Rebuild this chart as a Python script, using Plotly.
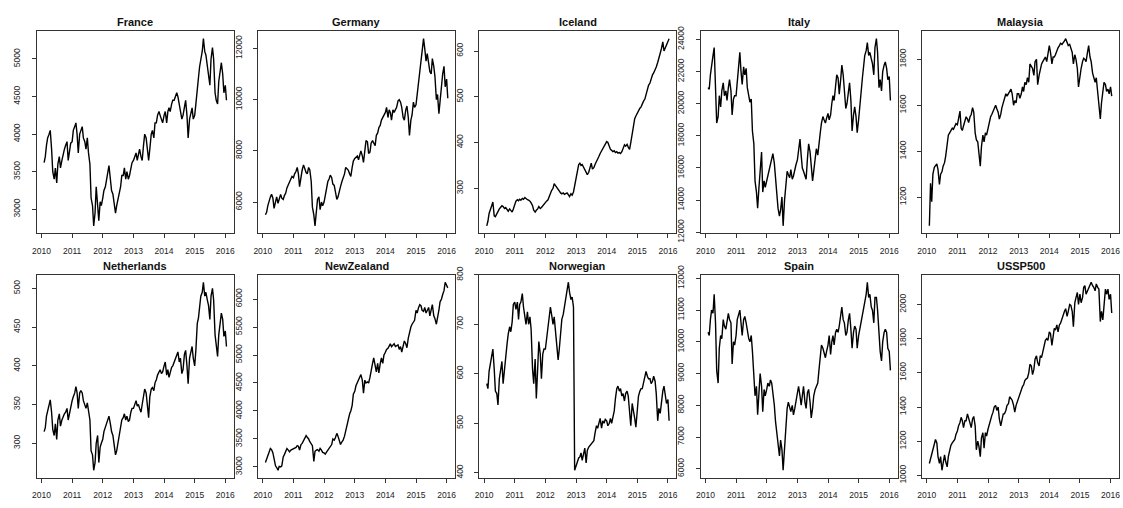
import pandas as pd
import plotly.graph_objects as go

# Semi-monthly sample dates (1st and 15th of each month)
dates = pd.date_range("2010-02-01", "2016-01-15", freq="SMS")

names = ["France", "Germany", "Iceland", "Italy", "Malaysia",
         "Netherlands", "NewZealand", "Norwegian", "Spain", "USSP500"]

france = (
    [3620, 3700, 3850, 3950, 4000, 4050, 3800, 3500, 3400, 3550, 3350, 3600, 3700, 3550, 3650, 3750, 3800, 3850, 3900, 3650, 3800, 3880]
    + [3900, 4050, 4100, 4150, 4000, 3750, 4000, 4050, 4100, 3950, 3900, 3800, 3950, 3750, 3600, 3150, 3050, 2780, 2950, 3300, 3100, 2850, 3100, 3050]
    + [3150, 3250, 3300, 3400, 3450, 3580, 3400, 3250, 3200, 3050, 2950, 3050, 3150, 3200, 3300, 3450, 3450, 3550, 3400, 3500, 3400, 3450, 3550, 3620]
    + [3650, 3700, 3750, 3650, 3750, 3800, 3700, 3650, 3850, 4000, 3950, 3750, 3650, 3800, 4000, 4050, 3950, 4150, 4150, 4250, 4300, 4250, 4200, 4150]
    + [4250, 4300, 4150, 4300, 4350, 4300, 4400, 4450, 4450, 4500, 4550, 4500, 4400, 4350, 4200, 4250, 4400, 4450, 4250, 3950, 4200, 4300, 4350, 4200]
    + [4250, 4400, 4650, 4750, 4900, 5000, 5100, 5270, 5100, 5050, 4900, 4850, 4650, 5000, 5150, 5000, 4550, 4450, 4400, 4700, 4850, 4950, 4800, 4550]
    + [4650, 4450]
)
germany = (
    [5500, 5600, 5850, 6050, 6200, 6300, 6150, 5750, 6000, 6200, 5950, 6150, 6300, 6150, 6100, 6250, 6350, 6550, 6700, 6800, 6900, 7000]
    + [6950, 7100, 7200, 7350, 7100, 6600, 7100, 7250, 7450, 7300, 7150, 7100, 7350, 7250, 6800, 5800, 5500, 5070, 5500, 6100, 6200, 5700, 6000, 5850]
    + [6000, 6300, 6600, 6800, 6900, 7050, 6950, 6700, 6650, 6400, 6100, 6200, 6500, 6600, 6800, 6950, 7100, 7350, 7300, 7250, 7100, 7000, 7350, 7600]
    + [7700, 7750, 7800, 7650, 7900, 8000, 7800, 7550, 8000, 8400, 8350, 7900, 7950, 8300, 8400, 8300, 8200, 8600, 8700, 8900, 9000, 9200, 9300, 9400]
    + [9500, 9700, 9300, 9600, 9500, 9200, 9600, 9500, 9600, 9700, 9950, 10000, 9900, 9700, 9300, 9200, 9600, 9750, 9300, 8600, 9200, 9400, 9900, 9700]
    + [9800, 10200, 10800, 11000, 11500, 12000, 12380, 12000, 11500, 11800, 11300, 11100, 11000, 11600, 11300, 10900, 10000, 10200, 9450, 10000, 10800, 11000, 11300, 10500]
    + [10800, 10050]
)
iceland = (
    [218, 228, 245, 255, 262, 270, 240, 238, 245, 250, 255, 258, 262, 260, 256, 258, 252, 250, 255, 252, 248, 255]
    + [265, 272, 275, 273, 276, 274, 278, 276, 280, 277, 275, 274, 272, 268, 262, 252, 248, 252, 255, 260, 256, 258, 262, 266]
    + [270, 272, 275, 282, 290, 295, 300, 310, 306, 302, 300, 296, 290, 288, 290, 287, 288, 290, 286, 282, 288, 285, 292, 305]
    + [325, 340, 352, 355, 350, 352, 345, 340, 332, 330, 335, 348, 355, 342, 345, 352, 360, 366, 370, 376, 382, 388, 393, 398]
    + [402, 400, 392, 385, 383, 380, 382, 378, 380, 377, 378, 376, 380, 388, 395, 392, 396, 390, 385, 400, 420, 440, 452, 458]
    + [465, 470, 475, 478, 485, 490, 495, 505, 520, 525, 530, 540, 548, 552, 558, 565, 575, 588, 595, 605, 620, 600, 608, 615]
    + [622, 627]
)
italy = (
    [21000, 20900, 21800, 22500, 23000, 23500, 21500, 18800, 19200, 20500, 19800, 20800, 21300, 20500, 20800, 20200, 21000, 21500, 20800, 19300, 20300, 20500]
    + [20500, 21500, 22300, 23200, 22000, 21200, 22300, 21800, 22200, 21000, 20500, 20100, 20300, 18300, 17500, 15200, 14500, 13500, 14800, 16000, 17000, 14500, 15200, 14800]
    + [15200, 15600, 16000, 16400, 16600, 16900, 16300, 15200, 14300, 13500, 13000, 13400, 14200, 12400, 14000, 14900, 15800, 15600, 15400, 15900, 15300, 15500, 16000, 16200]
    + [16500, 17200, 17800, 16800, 16000, 15800, 15500, 15300, 16600, 17500, 17000, 16200, 15200, 15800, 16600, 17200, 16800, 17600, 18200, 18800, 19200, 19000, 18800, 19100]
    + [19400, 19000, 19300, 20000, 20500, 20200, 21000, 21800, 21600, 20600, 21500, 22400, 21800, 21000, 19700, 20000, 20900, 21300, 20200, 18300, 19300, 19800, 19200, 18200]
    + [19000, 20000, 20800, 21600, 22300, 23000, 23300, 23800, 23000, 23200, 22800, 22500, 21800, 23500, 24050, 23200, 21000, 21500, 20800, 22000, 22400, 22600, 22200, 21500]
    + [21700, 20200]
)
malaysia = (
    [1075, 1260, 1180, 1300, 1330, 1340, 1345, 1320, 1255, 1300, 1310, 1335, 1350, 1380, 1420, 1470, 1480, 1490, 1500, 1495, 1510, 1520]
    + [1515, 1550, 1575, 1500, 1490, 1510, 1530, 1550, 1540, 1525, 1550, 1560, 1590, 1570, 1480, 1450, 1440, 1380, 1335, 1420, 1470, 1440, 1480, 1470]
    + [1500, 1520, 1550, 1560, 1575, 1590, 1600, 1585, 1570, 1540, 1560, 1590, 1610, 1630, 1650, 1640, 1650, 1660, 1670, 1650, 1600, 1620, 1610, 1650]
    + [1650, 1630, 1650, 1680, 1660, 1700, 1690, 1720, 1700, 1780, 1770, 1760, 1730, 1790, 1800, 1690, 1730, 1760, 1780, 1790, 1800, 1810, 1790, 1820]
    + [1860, 1830, 1780, 1810, 1810, 1820, 1840, 1850, 1860, 1870, 1865, 1870, 1880, 1890, 1870, 1860, 1865, 1850, 1830, 1780, 1820, 1800, 1760, 1680]
    + [1740, 1760, 1790, 1805, 1800, 1790, 1830, 1860, 1810, 1790, 1740, 1720, 1700, 1720, 1650, 1600, 1540, 1610, 1660, 1700, 1690, 1660, 1670, 1650]
    + [1680, 1640]
)
netherlands = (
    [315, 320, 335, 342, 350, 356, 340, 318, 310, 325, 305, 330, 338, 322, 330, 335, 338, 340, 345, 330, 340, 350]
    + [355, 360, 365, 373, 365, 345, 365, 368, 365, 355, 350, 345, 352, 340, 330, 290, 285, 265, 275, 300, 310, 275, 295, 300]
    + [305, 315, 320, 325, 330, 335, 325, 315, 310, 300, 285, 290, 300, 305, 320, 330, 333, 338, 330, 335, 328, 330, 340, 345]
    + [345, 350, 355, 348, 350, 345, 340, 350, 360, 370, 365, 345, 333, 360, 370, 372, 368, 378, 382, 388, 392, 395, 390, 392]
    + [400, 405, 388, 395, 385, 392, 398, 400, 405, 410, 415, 418, 405, 410, 390, 395, 415, 420, 400, 377, 410, 420, 425, 410]
    + [400, 420, 455, 462, 480, 490, 495, 508, 490, 495, 485, 478, 460, 490, 500, 485, 440, 425, 412, 440, 455, 468, 460, 438]
    + [445, 425]
)
newzealand = (
    [3080, 3150, 3200, 3250, 3330, 3310, 3250, 3150, 3020, 2990, 2940, 3010, 3000, 3020, 3180, 3220, 3280, 3330, 3300, 3270, 3300, 3310]
    + [3320, 3340, 3350, 3380, 3370, 3300, 3400, 3420, 3480, 3520, 3560, 3530, 3500, 3450, 3420, 3380, 3100, 3280, 3300, 3310, 3280, 3330, 3300, 3260]
    + [3250, 3230, 3270, 3300, 3310, 3350, 3400, 3500, 3480, 3520, 3600, 3550, 3480, 3400, 3450, 3480, 3550, 3650, 3750, 3850, 3950, 4000, 4100, 4300]
    + [4350, 4450, 4500, 4550, 4600, 4650, 4550, 4320, 4550, 4500, 4520, 4500, 4600, 4750, 4850, 4950, 4800, 4700, 4850, 4680, 4850, 4950, 4850, 5000]
    + [5050, 5100, 5120, 5150, 5200, 5150, 5180, 5200, 5150, 5170, 5180, 5100, 5150, 5050, 5200, 5250, 5200, 5130, 5300, 5400, 5500, 5550, 5580, 5620]
    + [5800, 5750, 5850, 5900, 5880, 5800, 5780, 5850, 5750, 5800, 5850, 5700, 5800, 5900, 5700, 5650, 5550, 5650, 5800, 5950, 6000, 6080, 6150, 6300]
    + [6250, 6200]
)
norwegian = (
    [580, 570, 605, 620, 640, 650, 610, 565, 560, 537, 590, 610, 625, 580, 615, 640, 660, 680, 695, 685, 705, 740]
    + [745, 730, 745, 710, 740, 745, 762, 735, 715, 700, 725, 700, 715, 690, 610, 580, 630, 550, 610, 665, 640, 590, 640, 650]
    + [650, 670, 690, 710, 735, 720, 700, 715, 690, 660, 628, 650, 690, 710, 720, 735, 745, 760, 785, 765, 750, 755, 735, 405]
    + [415, 425, 430, 432, 440, 425, 440, 450, 420, 445, 452, 455, 458, 462, 465, 480, 495, 490, 500, 510, 490, 505, 500, 508]
    + [505, 495, 500, 510, 500, 510, 525, 550, 570, 575, 565, 570, 555, 560, 545, 560, 565, 555, 530, 495, 540, 520, 510, 492]
    + [540, 555, 565, 570, 570, 580, 595, 605, 595, 590, 590, 580, 585, 595, 585, 560, 505, 530, 520, 545, 565, 575, 560, 540]
    + [548, 505]
)
spain = (
    [10300, 10200, 10700, 11000, 10900, 11500, 10600, 9100, 8700, 9800, 10200, 10100, 10700, 10500, 10400, 10700, 10900, 10700, 10600, 9300, 10000, 9900]
    + [10200, 10700, 10900, 11000, 10600, 10200, 10700, 10800, 10600, 10300, 10100, 10000, 10200, 9700, 8700, 8300, 8600, 7700, 8400, 9000, 8600, 7800, 8500, 8300]
    + [8500, 8700, 8600, 8800, 8700, 8400, 8000, 7500, 7100, 6800, 6400, 6900, 6600, 5950, 6700, 7200, 7900, 8100, 7900, 7800, 8000, 7700, 7900, 8100]
    + [8300, 8600, 8300, 8000, 8300, 8600, 8100, 7900, 8400, 8500, 8100, 7600, 7900, 8300, 8500, 8600, 8700, 9100, 9500, 9900, 9800, 9600, 9500, 9700]
    + [9900, 10200, 9600, 10000, 10200, 9900, 10300, 10400, 10300, 10500, 10900, 11100, 10700, 10600, 10200, 10300, 10700, 10900, 10400, 9800, 10300, 10500, 10400, 9800]
    + [10200, 10400, 10700, 10900, 11100, 11200, 11500, 11880, 11400, 11500, 11100, 11000, 10600, 11400, 11400, 11000, 10000, 9700, 9400, 10000, 10300, 10400, 10300, 9800]
    + [9700, 9100]
)
ussp500 = (
    [1070, 1100, 1130, 1160, 1180, 1210, 1190, 1110, 1070, 1110, 1030, 1080, 1120, 1080, 1050, 1110, 1150, 1175, 1190, 1200, 1210, 1240]
    + [1260, 1290, 1310, 1340, 1320, 1280, 1320, 1320, 1360, 1335, 1300, 1280, 1330, 1345, 1290, 1150, 1200, 1170, 1110, 1220, 1250, 1160, 1250, 1230]
    + [1270, 1300, 1330, 1350, 1370, 1400, 1410, 1380, 1400, 1330, 1290, 1330, 1360, 1360, 1380, 1410, 1420, 1460, 1450, 1440, 1410, 1370, 1410, 1430]
    + [1460, 1485, 1505, 1520, 1530, 1555, 1565, 1570, 1600, 1650, 1640, 1590, 1620, 1680, 1700, 1660, 1640, 1700, 1690, 1720, 1760, 1790, 1800, 1790]
    + [1840, 1830, 1760, 1830, 1860, 1850, 1880, 1840, 1880, 1890, 1920, 1940, 1960, 1975, 1930, 1960, 2000, 1995, 1960, 1870, 2010, 2040, 2070, 2000]
    + [2060, 2010, 2040, 2100, 2110, 2060, 2080, 2100, 2110, 2130, 2110, 2100, 2080, 2120, 2100, 2090, 1900, 1960, 1910, 2020, 2090, 2060, 2090, 2030]
    + [2060, 1950]
)

values = [france, germany, iceland, italy, malaysia,
          netherlands, newzealand, norwegian, spain, ussp500]
y_steps = [500, 2000, 100, 2000, 200, 50, 500, 100, 1000, 200]
year_ticks = ["2010-01-01", "2011-01-01", "2012-01-01", "2013-01-01",
              "2014-01-01", "2015-01-01", "2016-01-01"]
year_labels = ["2010", "2011", "2012", "2013", "2014", "2015", "2016"]

for n, v in zip(names, values):
    assert len(v) == len(dates), (n, len(v), len(dates))

W, H = 1123, 508
BOX_W = 198
col_left = [32 + 222.5 * c for c in range(5)]
row_box = [(22, 232), (275, 486)]
title_y = [12, 266]

FONT = "Liberation Sans, Arial, sans-serif"
AX_COL = "#333333"

fig = go.Figure()
layout = dict(
    width=W, height=H, margin=dict(l=0, r=0, t=0, b=0),
    paper_bgcolor="white", plot_bgcolor="white", showlegend=False,
    font=dict(family=FONT, size=8.5, color="#222222"),
    annotations=[],
)

tmin, tmax = dates.min(), dates.max()
tpad = (tmax - tmin) * 0.04
xrange = [str(tmin - tpad), str(tmax + tpad)]

for i, (name, vals, step) in enumerate(zip(names, values, y_steps)):
    r, c = divmod(i, 5)
    k = "" if i == 0 else str(i + 1)
    x0 = col_left[c] / W
    x1 = (col_left[c] + BOX_W) / W
    top, bot = row_box[r]
    y0 = 1 - bot / H
    y1 = 1 - top / H

    fig.add_trace(go.Scatter(
        x=dates, y=vals, mode="lines",
        line=dict(color="black", width=1.4),
        xaxis="x" + k, yaxis="y" + k, hoverinfo="skip",
    ))

    vmin, vmax = min(vals), max(vals)
    vpad = (vmax - vmin) * 0.04
    common = dict(
        showline=True, mirror=True, linecolor=AX_COL, linewidth=1,
        ticks="outside", ticklen=4, tickwidth=1, tickcolor=AX_COL,
        showgrid=False, zeroline=False,
        tickfont=dict(family=FONT, size=8.5, color="#222222"),
    )
    layout["xaxis" + k] = dict(
        domain=[x0, x1], anchor="y" + k, type="date", range=xrange,
        tickmode="array", tickvals=year_ticks, ticktext=year_labels,
        ticklabelstandoff=5,
        **common,
    )
    layout["yaxis" + k] = dict(
        domain=[y0, y1], anchor="x" + k,
        range=[vmin - vpad, vmax + vpad],
        tickmode="linear", tick0=0, dtick=step, tickangle=-90,
        tickformat="d", separatethousands=False,
        ticklabelstandoff=8,
        **common,
    )
    layout["annotations"].append(dict(
        text="<b>" + name + "</b>", xref="paper", yref="paper",
        x=(x0 + x1) / 2, y=1 - title_y[r] / H,
        xanchor="center", yanchor="middle", showarrow=False,
        font=dict(family=FONT, size=11, color="#111111"),
    ))

fig.update_layout(**layout)
fig.write_html("out.html")
